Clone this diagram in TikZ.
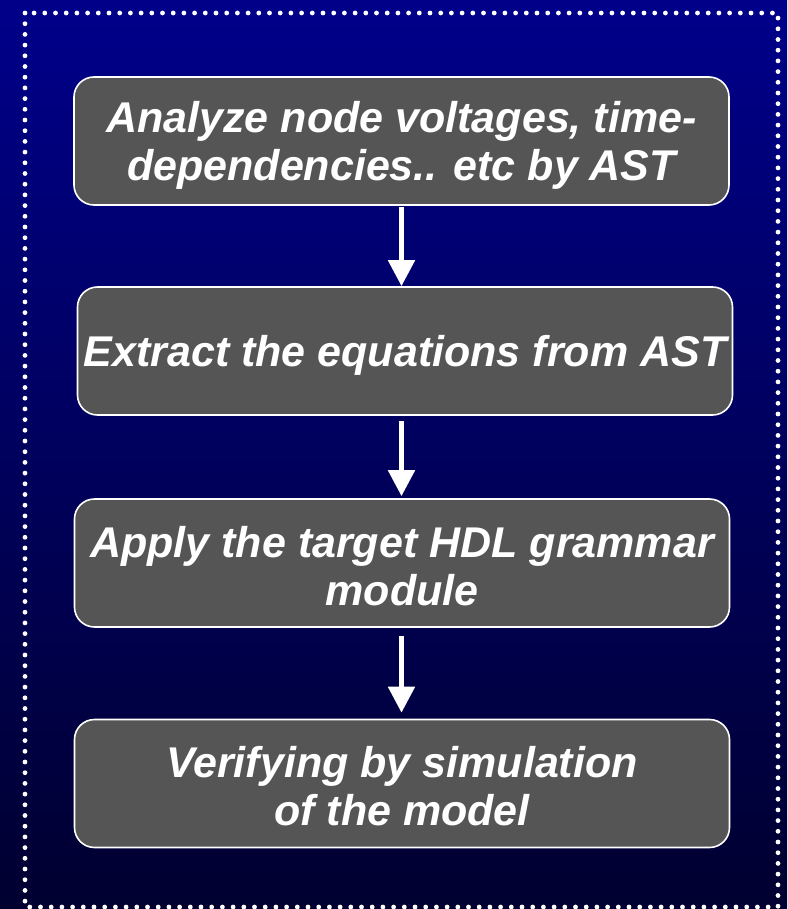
\documentclass[tikz,border=0pt]{standalone}
\usepackage{fontspec}
\setmainfont{Liberation Sans}
\usetikzlibrary{arrows.meta}
\definecolor{bgtop}{RGB}{0,0,138}
\definecolor{bgbottom}{RGB}{0,0,48}
\definecolor{boxfill}{RGB}{85,85,85}
\tikzset{
  stepbox/.style={draw=white, line width=1.6pt, fill=boxfill, rounded corners=20pt,
    minimum width=655pt, minimum height=128pt, inner sep=0pt},
  steptext/.style={text=white, align=center, inner sep=0pt,
    font=\fontsize{43}{48}\selectfont\bfseries\itshape},
  flow/.style={draw=white, line width=5pt, -{Triangle[width=26pt,length=26pt]}}
}
\begin{document}
\begin{tikzpicture}[x=1pt,y=-1pt]
  % background with vertical blue gradient
  \shade[top color=bgtop, bottom color=bgbottom] (0,0) rectangle (787,909);
  \useasboundingbox (0,0) rectangle (787,909);
  % dotted frame
  \draw[white, line width=4.8pt, line cap=round, dash pattern=on 0pt off 10.7pt]
    (25,13) rectangle (778,907);
  % process steps
  \node[stepbox] (b1) at (401.5,141) {};
  \node[stepbox] (b2) at (405,351) {};
  \node[stepbox] (b3) at (402,563) {};
  \node[stepbox] (b4) at (402,783.5) {};
  \node[steptext] (t1) at ([yshift=-4pt]b1.center) {Analyze node voltages, time-\\dependencies.. etc by AST};
  \node[steptext] (t2) at ([yshift=-4pt]b2.center) {Extract the equations from AST};
  \node[steptext] (t3) at ([yshift=-3pt]b3.center) {Apply the target HDL grammar\\module};
  \node[steptext] (t4) at ([yshift=-3pt]b4.center) {Verifying by simulation\\of the model};
  % connectors
  \coordinate (ax) at (401.5,0);
  \draw[flow, shorten <=1pt] (b1.south -| ax) -- (b2.north -| ax);
  \draw[flow, shorten <=5pt, shorten >=2pt] (b2.south -| ax) -- (b3.north -| ax);
  \draw[flow, shorten <=8pt, shorten >=6pt] (b3.south -| ax) -- (b4.north -| ax);
\end{tikzpicture}
\end{document}
